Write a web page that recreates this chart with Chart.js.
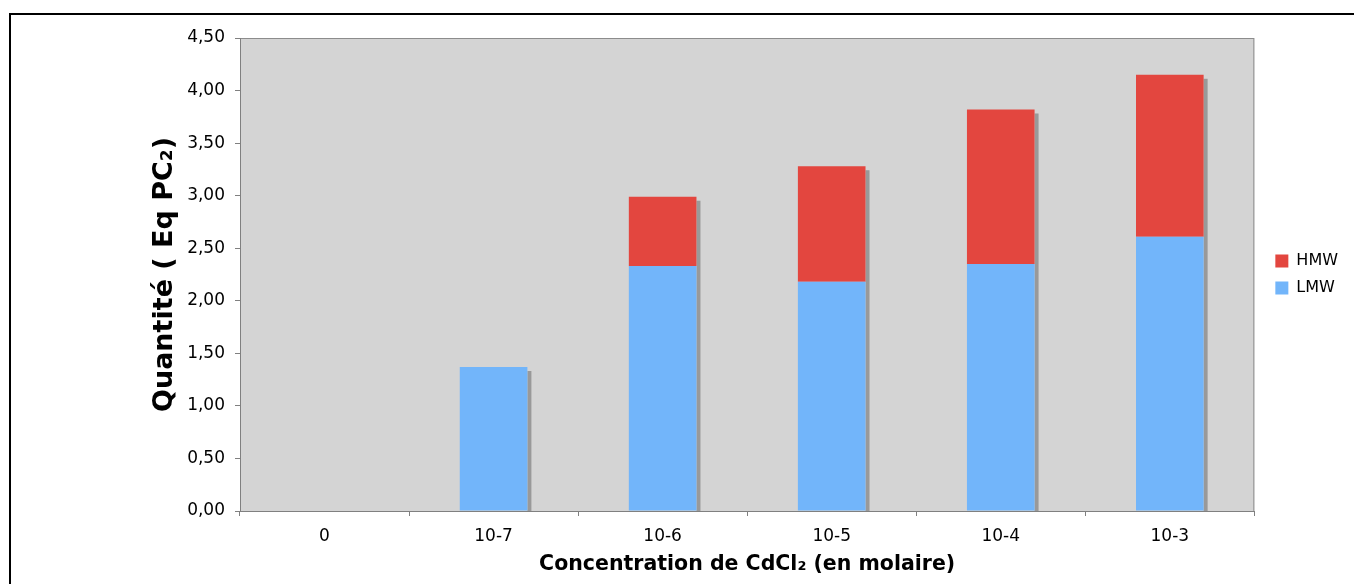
<!DOCTYPE html>
<html>
<head>
<meta charset="utf-8">
<script src="https://cdn.jsdelivr.net/npm/chart.js@4.4.1/dist/chart.umd.min.js"></script>
<style>
html, body { margin: 0; padding: 0; width: 1354px; height: 584px; background: #fff; overflow: hidden; position: relative; }
#frame { position: absolute; left: 9px; top: 13px; right: 0; bottom: 0; border-left: 2px solid #000; border-top: 2px solid #000; }
#myChart { position: absolute; left: 0; top: 0; }
</style>
</head>
<body>
<div id="frame"></div>
<canvas id="myChart" width="1354" height="584"></canvas>
<script>
const categories = ['0', '10-7', '10-6', '10-5', '10-4', '10-3'];
const lmwValues = [0, 1.37, 2.33, 2.18, 2.35, 2.61];
const hmwValues = [0, 0, 0.66, 1.10, 1.47, 1.54];

// gray plot background + thin border like the old excel chart
const plotBg = {
    id: 'plotBg',
    beforeDraw(chart) {
        const {ctx, chartArea: a} = chart;
        ctx.save();
        ctx.fillStyle = '#d4d4d4';
        ctx.fillRect(a.left, a.top, a.right - a.left, a.bottom - a.top);
        ctx.strokeStyle = '#8c8c8c';
        ctx.lineWidth = 1;
        ctx.strokeRect(a.left + 0.5, a.top + 0.5, a.right - a.left - 1, a.bottom - a.top);
        ctx.restore();
    }
};

// drop shadow on the right side of each stack
const barShadow = {
    id: 'barShadow',
    beforeDatasetsDraw(chart) {
        const ctx = chart.ctx;
        const metas = chart.data.datasets.map((d, i) => chart.getDatasetMeta(i));
        ctx.save();
        ctx.fillStyle = '#999999';
        categories.forEach((c, j) => {
            let top = null, right = null;
            metas.forEach((m, i) => {
                const v = chart.data.datasets[i].data[j];
                const el = m.data[j];
                if (!v || !el) return;
                if (top === null || el.y < top) top = el.y;
                right = el.x + el.width / 2;
            });
            if (top === null) return;
            const base = chart.chartArea.bottom;
            ctx.fillRect(right, top + 4, 4, base - top - 4);
        });
        ctx.restore();
    }
};

// nudge legend a bit away from the plot
const legendShift = {
    id: 'legendShift',
    afterLayout(chart) {
        chart.legend.left += 10;
        chart.legend.right += 10;
    }
};

const ctx = document.getElementById('myChart');
const chartInstance = new Chart(ctx, {
    type: 'bar',
    data: {
        labels: categories,
        datasets: [{
            label: 'LMW',
            data: lmwValues,
            backgroundColor: '#72b5fa',
            borderWidth: 0
        }, {
            label: 'HMW',
            data: hmwValues,
            backgroundColor: '#e3463f',
            borderWidth: 0
        }]
    },
    options: {
        responsive: false,
        animation: false,
        barPercentage: 0.4,
        categoryPercentage: 1.0,
        layout: {
            padding: { left: 140, top: 38, right: 16, bottom: 0 }
        },
        plugins: {
            tooltip: { enabled: false },
            legend: {
                position: 'right',
                fullSize: false,
                reverse: true,
                labels: {
                    boxWidth: 13,
                    boxHeight: 13,
                    padding: 11,
                    color: '#000',
                    font: { family: 'DejaVu Sans', size: 16 }
                }
            }
        },
        scales: {
            x: {
                stacked: true,
                afterFit(scale) { scale.height = 73; },
                grid: { display: true, drawOnChartArea: false, drawTicks: true, tickLength: 5, color: '#808080' },
                border: { color: '#808080' },
                ticks: { color: '#000', padding: 10, font: { family: 'DejaVu Sans', size: 17 } },
                title: {
                    display: true,
                    text: 'Concentration de CdCl\u2082 (en molaire)',
                    color: '#000',
                    padding: { top: 0, bottom: 7 },
                    font: { family: 'DejaVu Sans', size: 20.5, weight: 'bold' }
                }
            },
            y: {
                stacked: true,
                min: 0,
                max: 4.5,
                afterFit(scale) { scale.width = 100; },
                grid: { display: true, drawOnChartArea: false, drawTicks: true, tickLength: 5, color: '#808080' },
                border: { color: '#808080' },
                ticks: {
                    stepSize: 0.5,
                    color: '#000',
                    padding: 10,
                    font: { family: 'DejaVu Sans', size: 17 },
                    callback: (v) => v.toFixed(2).replace('.', ',')
                },
                title: {
                    display: true,
                    text: 'Quantit\u00e9 ( Eq PC\u2082)',
                    color: '#000',
                    padding: { top: 9, bottom: 0 },
                    font: { family: 'DejaVu Sans', size: 27, weight: 'bold' }
                }
            }
        }
    },
    plugins: [plotBg, barShadow, legendShift]
});
</script>
</body>
</html>
